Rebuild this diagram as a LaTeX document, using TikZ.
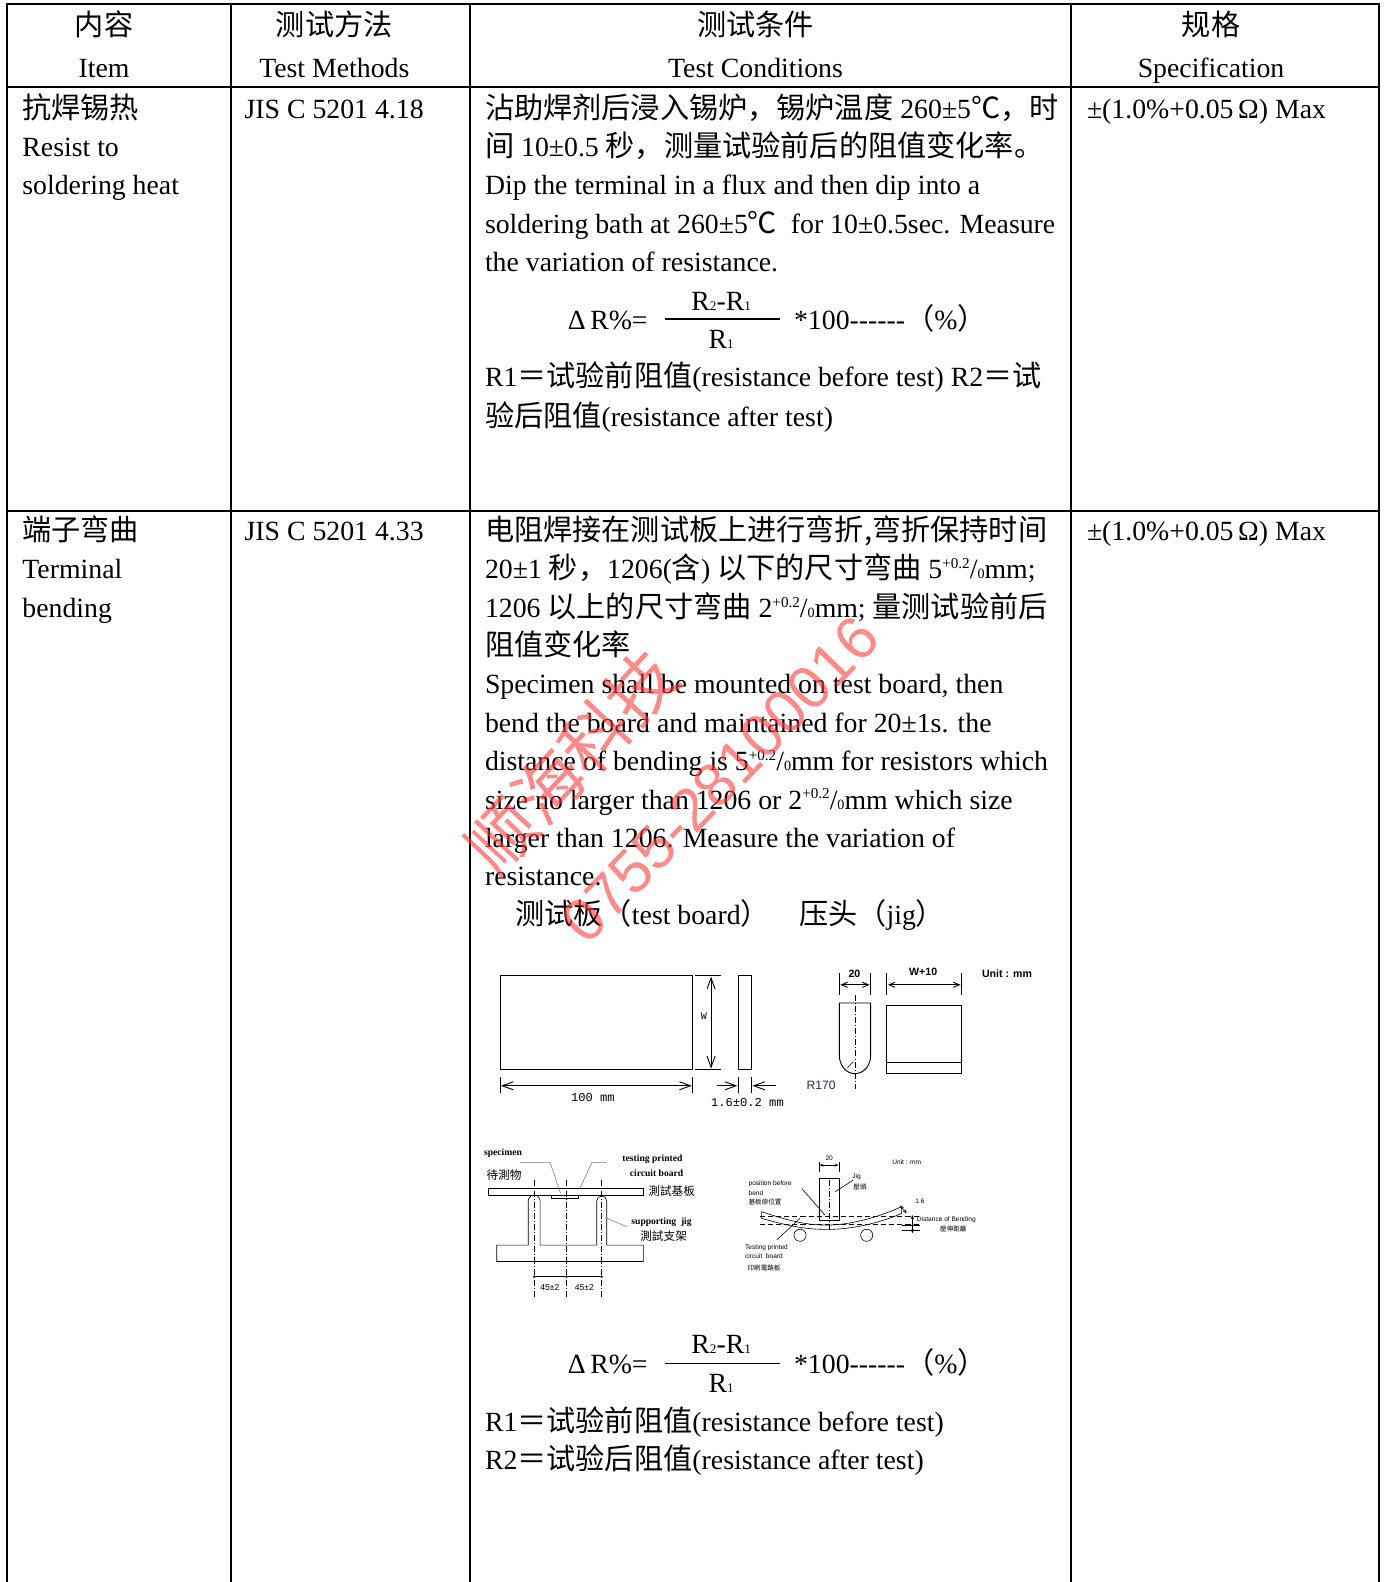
\documentclass[tikz,border=0pt]{standalone}
\usepackage{fontspec}
\setmainfont{Liberation Serif}
\newfontfamily\cjk[Scale=1.05]{Noto Sans CJK SC}
\newfontfamily\lsans{Liberation Sans}
\newfontfamily\lmono{Liberation Mono}
\usetikzlibrary{arrows.meta}
\definecolor{navyr}{RGB}{30,40,90}
\definecolor{wmred}{RGB}{255,60,60}
\newcommand\zhs[1]{{\cjk #1}}
\newcommand\tolr[1]{#1\raisebox{10pt}{\fontsize{15}{15}\selectfont +0.2}/{\fontsize{14}{14}\selectfont 0}}
\newcommand\subr[1]{{\fontsize{13}{13}\selectfont #1}}
\newcommand\dashes{-{}-{}-{}-{}-{}-}
\begin{document}
\begin{tikzpicture}[x=1pt,y=-1pt,
  grid/.style={line width=2pt},
  txt/.style={anchor=base west,inner sep=0pt,font=\fontsize{27.5}{34}\selectfont},
  hdr/.style={anchor=base,inner sep=0pt,font=\fontsize{27.5}{34}\selectfont},
  dl/.style={line width=0.9pt},
  thinl/.style={line width=0.6pt},
  bar/.style={{Straight Barb[length=11pt,width=8pt]}-{Straight Barb[length=11pt,width=8pt]}},
  sbar/.style={{Straight Barb[length=6pt,width=5pt]}-{Straight Barb[length=6pt,width=5pt]}},
  tbar/.style={{Straight Barb[length=3pt,width=2.5pt]}-{Straight Barb[length=3pt,width=2.5pt]}},
  onebarb/.style={-{Straight Barb[length=11pt,width=8pt]}},
  cline/.style={line width=0.6pt,dash pattern=on 6pt off 2pt on 1pt off 2pt},
  mono/.style={inner sep=0pt,font=\lmono\fontsize{12}{12}\selectfont},
  bsans/.style={inner sep=0pt,font=\lsans\bfseries\fontsize{10.5}{10.5}\selectfont},
  bser/.style={inner sep=0pt,font=\bfseries\fontsize{9.5}{9.5}\selectfont},
  zsm/.style={inner sep=0pt,font=\cjk\fontsize{11}{11}\selectfont},
  tiny/.style={inner sep=0pt,font=\lsans\fontsize{6.5}{6.5}\selectfont},
  tinyz/.style={inner sep=0pt,font=\cjk\fontsize{6.2}{6.2}\selectfont},
  wm/.style={inner sep=0pt,text=wmred,text opacity=0.6}
]
\useasboundingbox (0,0) rectangle (1369.3,1566.3);
% table grid
\draw[grid] (7,1566.3) -- (7,3.5) -- (1365.5,3.5) -- (1365.5,1566.3);
\draw[grid] (7,86.5) -- (1365.5,86.5);
\draw[grid] (7,505.5) -- (1365.5,505.5);
\draw[grid] (228.7,3.5) -- (228.7,1566.3);
\draw[grid] (465.3,3.5) -- (465.3,1566.3);
\draw[grid] (1060.4,3.5) -- (1060.4,1566.3);
% header
\node[hdr] (h1a) at (103,35) {\zhs{内容}};
\node[hdr] (h1b) at (103,77) {Item};
\node[hdr] (h2a) at (331,35) {\zhs{测试方法}};
\node[hdr] (h2b) at (331,77) {Test Methods};
\node[hdr] (h3a) at (748,35) {\zhs{测试条件}};
\node[hdr] (h3b) at (748,77) {Test Conditions};
\node[hdr] (h4a) at (1199,35) {\zhs{规格}};
\node[hdr] (h4b) at (1199,77) {Specification};
% row 1
\node[txt] (r1a1) at (22,117) {\zhs{抗焊锡热}};
\node[txt] (r1a2) at (22,155) {Resist to};
\node[txt] (r1a3) at (22,193) {soldering heat};
\node[txt] (r1b) at (242,117) {JIS C 5201 4.18};
\node[txt] (r1c1) at (480,117) {\zhs{沾助焊剂后浸入锡炉，锡炉温度} 260±5\zhs{℃，时}};
\node[txt] (r1c2) at (480,155) {\zhs{间} 10±0.5 \zhs{秒，测量试验前后的阻值变化率。}};
\node[txt] (r1c3) at (480,193) {Dip the terminal in a flux and then dip into a};
\node[txt] (r1c4) at (480,231) {soldering bath at 260±5\zhs{℃}\ \ for 10±0.5sec. Measure};
\node[txt] (r1c5) at (480,269) {the variation of resistance.};
\node[txt] (f1a) at (562,326) {Δ\,R\%=};
\draw[line width=1.5pt] (658,316) -- (772,316);
\node[hdr] (f1n) at (714,307) {R\subr{2}-R\subr{1}};
\node[hdr] (f1d) at (714,345) {R\subr{1}};
\node[txt] (f1b) at (786,326) {*100\dashes\zhs{（}\%\zhs{）}};
\node[txt] (r1c6) at (480,383) {R1\zhs{＝试验前阻值}(resistance before test) R2\zhs{＝试}};
\node[txt] (r1c7) at (480,422) {\zhs{验后阻值}(resistance after test)};
\node[txt] (r1d) at (1076,117) {±(1.0\%+0.05\,Ω) Max};
% row 2
\node[txt] (r2a1) at (22,535) {\zhs{端子弯曲}};
\node[txt] (r2a2) at (22,573) {Terminal};
\node[txt] (r2a3) at (22,611) {bending};
\node[txt] (r2b) at (242,535) {JIS C 5201 4.33};
\node[txt] (r2d) at (1076,535) {±(1.0\%+0.05\,Ω) Max};
\node[txt] (r2c1) at (480,535) {\zhs{电阻焊接在测试板上进行弯折,弯折保持时间}};
\node[txt] (r2c2) at (480,573) {20±1 \zhs{秒，}1206(\zhs{含}) \zhs{以下的尺寸弯曲} \tolr{5}mm;};
\node[txt] (r2c3) at (480,611) {1206 \zhs{以上的尺寸弯曲} \tolr{2}mm; \zhs{量测试验前后}};
\node[txt] (r2c4) at (480,649) {\zhs{阻值变化率}};
\node[txt] (r2c5) at (480,687) {Specimen shall be mounted on test board, then};
\node[txt] (r2c6) at (480,725) {bend the board and maintained for 20±1s. the};
\node[txt] (r2c7) at (480,763) {distance of bending is \tolr{5}mm for resistors which};
\node[txt] (r2c8) at (480,801) {size no larger than 1206 or \tolr{2}mm which size};
\node[txt] (r2c9) at (480,839) {larger than 1206. Measure the variation of};
\node[txt] (r2c10) at (480,877) {resistance.};
\node[txt] (r2c11) at (510,915) {\zhs{测试板（}test board\zhs{）}};
\node[txt] (r2c11b) at (791,915) {\zhs{压头（}jig\zhs{）}};
% diagram 1
\draw[dl] (495,966) rectangle (686,1059);
\draw[dl] (688,966) -- (714,966);
\draw[dl] (688,1059) -- (714,1059);
\draw[dl,bar] (704,967) -- (704,1058);
\node[mono,font=\lmono\fontsize{10}{10}\selectfont] (dW) at (697,1006) {W};
\draw[dl] (731,966) rectangle (744,1059);
\draw[dl] (495,1066) -- (495,1082);
\draw[dl] (686,1066) -- (686,1082);
\draw[dl,bar] (496,1075) -- (685,1075);
\node[mono] (d100) at (587,1087) {100 mm};
\draw[dl] (731,1066) -- (731,1082);
\draw[dl] (744,1066) -- (744,1082);
\draw[dl,onebarb] (710,1075) -- (730,1075);
\draw[dl,onebarb] (768,1075) -- (745,1075);
\node[mono] (d16) at (740,1092) {1.6±0.2 mm};
\draw[dl] (831,963) -- (831,985);
\draw[dl] (862,963) -- (862,985);
\draw[dl,sbar] (832,975) -- (861,975);
\node[bsans] (d20) at (846,964) {20};
\draw[dl] (831,993) -- (862,993) -- (862,1045) arc[start angle=0,end angle=180,x radius=15.5,y radius=18] -- cycle;
\draw[cline] (846.5,985) -- (846.5,1078);
\draw[thinl] (839,1057) -- (845,1051);
\node[inner sep=0pt,font=\lsans\fontsize{12}{12}\selectfont,text=navyr] (dR) at (813,1075) {R170};
\draw[dl] (878,963) -- (878,985);
\draw[dl] (952,963) -- (952,985);
\draw[dl,sbar] (879,975) -- (951,975);
\node[bsans] (dW10) at (914,962) {W+10};
\draw[dl] (878,995) rectangle (952,1063);
\draw[dl] (878,1052) -- (952,1052);
\node[bsans] (dunit) at (997,964) {Unit : mm};
% diagram 2
\draw[thinl] (483.5,1176.5) rectangle (637,1183);
\draw[thinl] (546,1183) rectangle (572.6,1186.5);
\draw[thinl] (491.8,1232.7) -- (523,1232.7) -- (523,1189) arc[start angle=180,end angle=360,radius=5.85] -- (534.7,1232.7) -- (590.8,1232.7) -- (590.8,1189) arc[start angle=180,end angle=360,radius=4.95] -- (600.7,1232.7) -- (637,1232.7) -- (637,1249) -- (491.8,1249) -- cycle;
\draw[cline,line width=0.5pt] (528.85,1168) -- (528.85,1284);
\draw[cline,line width=0.5pt] (561,1168) -- (561,1284);
\draw[cline,line width=0.5pt] (595.75,1168) -- (595.75,1284);
\draw[line width=0.9pt] (528.85,1264) -- (595.75,1264);
\fill (528.85,1264) circle (1.3) (561,1264) circle (1.3) (595.75,1264) circle (1.3);
\node[inner sep=0pt,font=\lsans\fontsize{8.5}{8.5}\selectfont] (d45a) at (544.5,1275) {45±2};
\node[inner sep=0pt,font=\lsans\fontsize{8.5}{8.5}\selectfont] (d45b) at (578.5,1275) {45±2};
\node[bser] (lsp) at (498,1142) {specimen};
\node[zsm] (lsp2) at (499,1163) {待測物};
\node[bser] (ltp) at (646,1148) {testing printed};
\node[bser] (ltp2) at (650,1162) {circuit board};
\node[zsm] (ltp3) at (665,1179) {測試基板};
\node[bser] (lsj) at (655,1210) {supporting\ \ jig};
\node[zsm] (lsj2) at (657,1224) {測試支架};
\draw[thinl,gray] (514.9,1150.8) -- (544.6,1150.8) -- (555,1181.5);
\draw[thinl,gray] (601,1150.8) -- (586,1150.8) -- (574,1177);
\draw[thinl,gray] (620.5,1214.5) -- (599,1205.3);
% diagram 3
\draw[thinl] (811,1150) -- (811,1160);
\draw[thinl] (830.7,1150) -- (830.7,1160);
\draw[thinl,tbar] (811.5,1153.5) -- (830.2,1153.5);
\node[tiny] (e20) at (821,1147) {20};
\draw[thinl] (811,1166.7) rectangle (830.7,1208);
\draw[cline,line width=0.4pt] (821,1168) -- (821,1218);
\node[tiny] (ejig) at (848,1165) {Jig};
\node[tinyz] (ejig2) at (851.5,1175.5) {壓頭};
\draw[thinl] (844.9,1168.3) -- (826.7,1180);
\node[tiny] (eunit) at (897.7,1150.8) {Unit : mm};
\node[tiny,anchor=west] (epb) at (741,1171.6) {position before};
\node[tiny,anchor=west] (epb2) at (741,1180.9) {bend};
\node[tinyz,anchor=west] (epb3) at (741,1189.8) {基板原位置};
\draw[thinl] (793.7,1176.6) -- (816.8,1203);
\draw[thinl,dash pattern=on 5pt off 3pt] (752.5,1204) -- (910.9,1204);
\draw[thinl,dash pattern=on 5pt off 3pt] (752.5,1211.9) -- (910.9,1211.9);
\draw[thinl] (754.1,1199.7) .. controls (785,1210) and (800,1213) .. (820.1,1212.9) .. controls (845,1212.5) and (872,1204) .. (892.7,1194.7) -- (892.7,1201.3) .. controls (872,1210.5) and (845,1217) .. (820.1,1217.2) .. controls (800,1217.2) and (785,1215) .. (754.1,1206.3) -- cycle;
\draw[thinl] (792.1,1223) circle (6);
\draw[thinl] (858.1,1223) circle (6);
\draw[thinl] (892.7,1212.9) -- (910.9,1212.9);
\draw[thinl] (892.7,1217.8) -- (910.9,1217.8);
\draw[thinl,tbar] (903.3,1203) -- (903.3,1221);
\node[tiny] (e16) at (910.9,1189.1) {1.6};
\draw[thinl,tbar] (891.1,1193.5) -- (897.7,1201.3);
\node[tiny,anchor=west] (edist) at (907.6,1207.3) {Distance of Bending};
\node[tinyz] (edist2) at (943.9,1217.2) {壓伸距離};
\node[tiny,anchor=west] (etp) at (737.6,1235) {Testing printed};
\node[tiny,anchor=west] (etp2) at (737.6,1243.6) {circuit\ \ board};
\node[tinyz,anchor=west] (etp3) at (740,1255.8) {印刷電路板};
\draw[thinl] (769,1227.7) -- (792,1206.3);
% formula 2
\node[txt] (f2a) at (562,1360) {Δ\,R\%=};
\draw[line width=1.5pt] (658,1350) -- (772,1350);
\node[hdr] (f2n) at (714,1340) {R\subr{2}-R\subr{1}};
\node[hdr] (f2d) at (714,1379) {R\subr{1}};
\node[txt] (f2b) at (786,1360) {*100\dashes\zhs{（}\%\zhs{）}};
\node[txt] (r2c12) at (480,1417) {R1\zhs{＝试验前阻值}(resistance before test)};
\node[txt] (r2c13) at (480,1455) {R2\zhs{＝试验后阻值}(resistance after test)};
% watermark
\node[wm,rotate=47,font=\cjk\fontsize{64}{64}\selectfont] (wm1) at (566,754) {顺海科技};
\node[wm,rotate=46,font=\lsans\fontsize{60}{60}\selectfont] (wm2) at (713,772) {0755-28100016};
\end{tikzpicture}
\end{document}
